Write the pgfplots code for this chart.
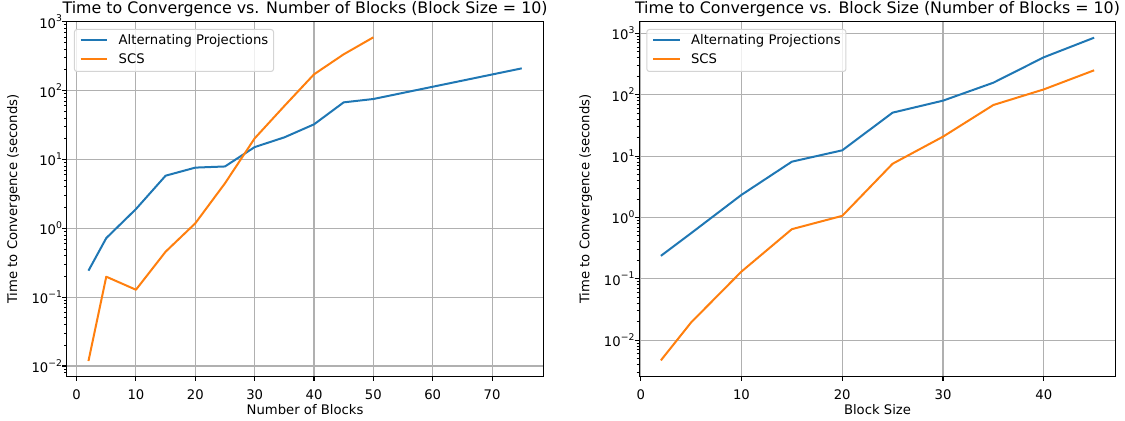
\documentclass[border=0pt]{standalone}
\usepackage{fontspec}
\setmainfont{DejaVu Sans}
\usepackage{pgfplots}
\pgfplotsset{compat=1.18}

\definecolor{mblue}{HTML}{1F77B4}
\definecolor{morange}{HTML}{FF7F0E}
\definecolor{mgrid}{HTML}{B0B0B0}

\newcommand\tickfont{\fontsize{13.2bp}{15.8bp}\selectfont}
\newcommand\titlefont{\fontsize{15.84bp}{19bp}\selectfont}
\newcommand\supfont{\fontsize{9.24bp}{10bp}\selectfont}
\newcommand\tp[1]{10\raisebox{6.3bp}{\supfont #1}}

\pgfplotsset{
  width=476.6bp, height=354.6bp, scale only axis,
  axis line style={line width=1.06bp, black},
  tick align=outside, tick pos=left,
  major tick length=4.62bp, minor tick length=2.64bp,
  major tick style={black, line width=1.06bp},
  minor tick style={black, line width=0.8bp},
  grid=major, major grid style={mgrid, line width=1.06bp},
  tick label style={font=\tickfont},
  yticklabel style={anchor=east, inner sep=0pt},
  xticklabel style={anchor=north, inner sep=0pt, yshift=-9bp},
  label style={font=\tickfont},
  xlabel style={at={(axis description cs:0.5,-0.1080)}, anchor=base, inner sep=0pt},
  ylabel style={at={(axis description cs:-0.1120,0.5)}, anchor=center, inner sep=0pt},
  every axis title/.style={at={(axis description cs:0.5,1)}, anchor=base, yshift=7.9bp, inner sep=0pt, font=\titlefont},
  legend style={at={(axis description cs:0,1)}, anchor=north west, xshift=7.1bp, yshift=-7.3bp,
    draw=black!17, line width=1bp, rounded corners=2.6bp, fill=white, fill opacity=0.8, text opacity=1, draw opacity=1,
    inner xsep=5.3bp, inner ysep=5.3bp, row sep=6.6bp, column sep=10.6bp,
    nodes={inner sep=0bp, text height=9.7bp, text depth=2.7bp},
    cells={anchor=west}, font=\tickfont},
  legend image code/.code={\draw[#1] (0bp,1.2bp) -- (26.4bp,1.2bp);},
  every axis plot/.append style={line width=2bp, line join=round},
}

\begin{document}
\begin{tikzpicture}
\useasboundingbox (0,0) rectangle (1125bp,421bp);
\begin{axis}[at={(66.8bp,44.7bp)}, anchor=south west,
  ymode=log,
  xmin=-1.65, xmax=78.65, ymin=0.00708, ymax=1000,
  xtick={0,10,20,30,40,50,60,70},
  xticklabels={0,10,20,30,40,50,60,70},
  ytick={0.01,0.1,1,10,100,1000},
  yticklabels={\tp{−2},\tp{−1},\tp{0},\tp{1},\tp{2},\tp{3}},
  minor ytick={0.008,0.009,0.02,0.03,0.04,0.05,0.06,0.07,0.08,0.09,0.2,0.3,0.4,0.5,0.6,0.7,0.8,0.9,2,3,4,5,6,7,8,9,20,30,40,50,60,70,80,90,200,300,400,500,600,700,800,900},
  title={Time to Convergence vs. Number of Blocks (Block Size = 10)},
  xlabel={Number of Blocks},
  ylabel={Time to Convergence (seconds)}]
\addplot[mblue] coordinates {(2,0.242)(5,0.72)(10,1.9)(15,5.8)(20,7.6)(25,7.9)(30,15.1)(35,20.9)(40,32.3)(45,67.4)(50,75.4)(75,210)};
\addlegendentry{Alternating Projections}
\addplot[morange] coordinates {(2,0.0118)(5,0.198)(10,0.128)(15,0.457)(20,1.18)(25,4.5)(30,20.2)(35,59.6)(40,172)(45,336)(50,593)};
\addlegendentry{SCS}
\end{axis}
\begin{axis}[at={(639.2bp,44.7bp)}, anchor=south west,
  ymode=log,
  xmin=-0.15, xmax=47.15, ymin=0.00257, ymax=1549,
  xtick={0,10,20,30,40},
  xticklabels={0,10,20,30,40},
  ytick={0.01,0.1,1,10,100,1000},
  yticklabels={\tp{−2},\tp{−1},\tp{0},\tp{1},\tp{2},\tp{3}},
  minor ytick={0.003,0.004,0.005,0.006,0.007,0.008,0.009,0.02,0.03,0.04,0.05,0.06,0.07,0.08,0.09,0.2,0.3,0.4,0.5,0.6,0.7,0.8,0.9,2,3,4,5,6,7,8,9,20,30,40,50,60,70,80,90,200,300,400,500,600,700,800,900},
  title={Time to Convergence vs. Block Size (Number of Blocks = 10)},
  xlabel={Block Size},
  ylabel={Time to Convergence (seconds)}]
\addplot[mblue] coordinates {(2,0.236)(5,0.553)(10,2.33)(15,8.1)(20,12.4)(25,51)(30,80)(35,157)(40,407)(45,850)};
\addlegendentry{Alternating Projections}
\addplot[morange] coordinates {(2,0.00467)(5,0.0194)(10,0.131)(15,0.643)(20,1.06)(25,7.5)(30,20.7)(35,68)(40,122)(45,250)};
\addlegendentry{SCS}
\end{axis}
\end{tikzpicture}
\end{document}
